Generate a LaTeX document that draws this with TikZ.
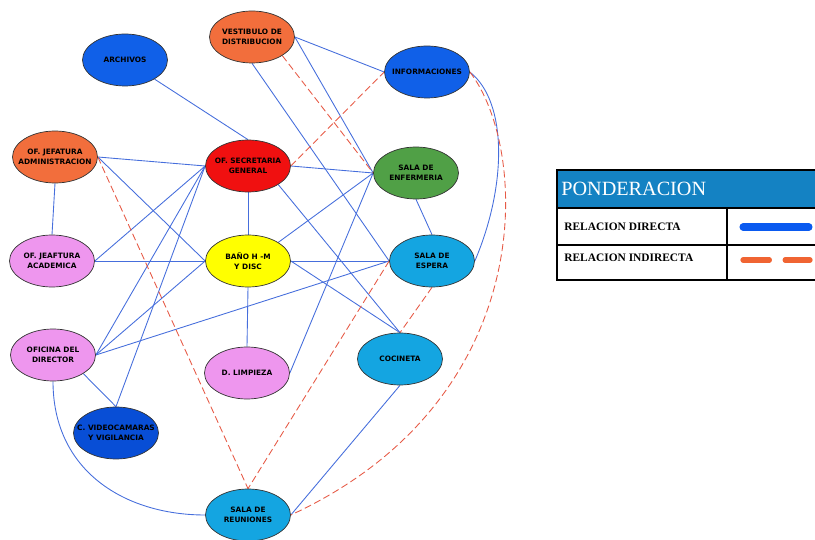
\documentclass[tikz,border=0pt]{standalone}
\usepackage{fontspec}
\setmainfont{Liberation Serif}
\newfontfamily\roomfont{DejaVu Sans}
\usetikzlibrary{shapes.geometric,backgrounds}
\definecolor{orange10}{RGB}{242, 110, 60}
\definecolor{blue10}{RGB}{16, 96, 232}
\definecolor{blue20}{RGB}{8, 78, 214}
\definecolor{red10}{RGB}{240, 16, 16}
\definecolor{green10}{RGB}{80, 160, 70}
\definecolor{violet10}{RGB}{238, 150, 238}
\definecolor{yellow10}{RGB}{255, 255, 0}
\definecolor{cyan10}{RGB}{20, 165, 225}
\definecolor{line10}{RGB}{70, 110, 220}
\definecolor{dash10}{RGB}{230, 90, 70}
\definecolor{head10}{RGB}{20, 130, 195}
\definecolor{legblue}{RGB}{10, 90, 240}
\definecolor{legorange}{RGB}{240, 100, 50}

\begin{document}
\begin{tikzpicture}[x=0.02cm, y=-0.02cm,
  room/.style={ellipse, draw=black!80, thin, minimum width=1.7cm, minimum height=1.04cm,
    inner xsep=-0.2cm, inner ysep=0pt, align=center,
    font=\roomfont\bfseries\fontsize{4.2}{5.6}\selectfont},
  direct/.style={line10, line width=0.5pt},
  indirect/.style={dash10, line width=0.5pt, dash pattern=on 4pt off 2pt}]
  \useasboundingbox (0,0) rectangle (815,540);

  \node[room, fill=blue10]   (arch)  at (125, 60)  {ARCHIVOS};
  \node[room, fill=orange10] (vest)  at (252, 37)  {VESTIBULO DE\\DISTRIBUCION};
  \node[room, fill=blue10]   (info)  at (427, 72)  {INFORMACIONES};
  \node[room, fill=orange10] (jadm)  at (55, 157)  {OF. JEFATURA\\ADMINISTRACION};
  \node[room, fill=red10]    (secr)  at (248, 166) {OF. SECRETARIA\\GENERAL};
  \node[room, fill=green10]  (enf)   at (416, 173) {SALA DE\\ENFERMERIA};
  \node[room, fill=violet10] (jacad) at (52, 261)  {OF. JEAFTURA\\ACADEMICA};
  \node[room, fill=yellow10] (bano)  at (248, 261) {BAÑO H -M\\Y DISC};
  \node[room, fill=cyan10]   (esp)   at (432, 261) {SALA DE\\ESPERA};
  \node[room, fill=violet10] (dir)   at (53, 355)  {OFICINA DEL\\DIRECTOR};
  \node[room, fill=violet10] (limp)  at (247, 373) {D. LIMPIEZA};
  \node[room, fill=cyan10]   (coc)   at (400, 359) {COCINETA};
  \node[room, fill=blue20]   (video) at (116, 433) {C. VIDEOCAMARAS\\Y VIGILANCIA};
  \node[room, fill=cyan10]   (reun)  at (248, 515) {SALA DE\\REUNIONES};

  \begin{scope}[on background layer]
    \draw[direct] (arch) -- (secr.north);
    \draw[direct] (vest.east) -- (info.west);
    \draw[direct] (vest.east) -- (enf.west);
    \draw[direct] (vest.south) -- (esp.west);
    \draw[direct] (info.east) .. controls +(38,30) and +(32,-75) .. (esp.east);
    \draw[direct] (jadm.east) -- (secr.west);
    \draw[direct] (jadm.south) -- (jacad.north);
    \draw[direct] (jadm.east) -- (bano.west);
    \draw[direct] (secr.east) -- (enf.west);
    \draw[direct] (secr.south) -- (bano.north);
    \draw[direct] (secr.west) -- (jacad.east);
    \draw[direct] (secr.west) -- (dir.east);
    \draw[direct] (secr.west) -- (video.north);
    \draw[direct] (secr.south east) -- (coc.north);
    \draw[direct] (enf.west) -- (bano.north east);
    \draw[direct] (enf.south) -- (esp.north);
    \draw[direct] (enf.west) -- (limp.east);
    \draw[direct] (bano.west) -- (jacad.east);
    \draw[direct] (bano.east) -- (esp.west);
    \draw[direct] (bano.south) -- (limp.north);
    \draw[direct] (bano.east) -- (coc.north);
    \draw[direct] (dir.east) -- (bano.west);
    \draw[direct] (dir.east) -- (esp.west);
    \draw[direct] (dir.south east) -- (video.north);
    \draw[direct] (dir.south) .. controls +(0,90) and +(-80,0) .. (reun.west);
    \draw[direct] (coc.south) -- (reun.east);
    \draw[indirect] (secr.east) -- (info.west);
    \draw[indirect] (vest.south east) -- (enf.west);
    \draw[indirect] (jadm.east) -- (reun.north);
    \draw[indirect] (esp.west) -- (reun.north);
    \draw[indirect] (esp.south) -- (coc.north);
    \draw[indirect] (info.east) .. controls (530,150) and (540,400) .. (reun.east);
  \end{scope}

  \fill[head10] (557,170) rectangle (820,208);
  \draw[line width=0.8pt] (557,208) -- (820,208);
  \draw[line width=0.8pt] (557,245) -- (820,245);
  \draw[line width=0.8pt] (727,208) -- (727,280);
  \draw[line width=1.5pt] (557,170) rectangle (820,280);
  \node[anchor=west, white, font=\fontsize{11.5}{12}\selectfont, inner sep=0pt] (ponder) at (561,189) {PONDERACION};
  \node[anchor=west, font=\bfseries\fontsize{6.5}{7}\selectfont, inner sep=0pt] (rowdir) at (564,227) {RELACION DIRECTA};
  \node[anchor=west, font=\bfseries\fontsize{6.5}{7}\selectfont, inner sep=0pt] (rowind) at (564,258) {RELACION INDIRECTA};
  \draw[legblue, line width=4pt, line cap=round] (743,227) -- (809,227);
  \draw[legorange, line width=3pt, line cap=round, dash pattern=on 15pt off 9pt] (743,260) -- (810,260);
\end{tikzpicture}
\end{document}
